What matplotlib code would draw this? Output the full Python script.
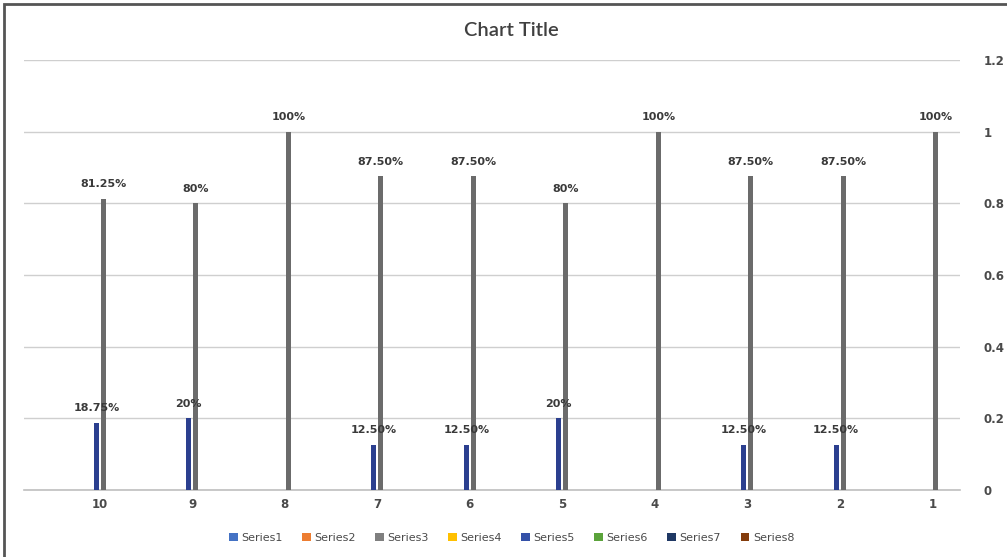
import numpy as np
import matplotlib.pyplot as plt
from matplotlib.patches import Rectangle, Patch

## category labels, left to right
categories = ['10', '9', '8', '7', '6', '5', '4', '3', '2', '1']
## series values (only Series3 and Series5 carry data)
series3 = [0.8125, 0.80, 1.0, 0.875, 0.875, 0.80, 1.0, 0.875, 0.875, 1.0]
series5 = [0.1875, 0.20, 0.0, 0.125, 0.125, 0.20, 0.0, 0.125, 0.125, 0.0]
series3_labels = ['81.25%', '80%', '100%', '87.50%', '87.50%', '80%', '100%', '87.50%', '87.50%', '100%']
series5_labels = ['18.75%', '20%', '', '12.50%', '12.50%', '20%', '', '12.50%', '12.50%', '']
series_names = ['Series1', 'Series2', 'Series3', 'Series4', 'Series5', 'Series6', 'Series7', 'Series8']
series_colors = ['#4472C4', '#ED7D31', '#7F7F7F', '#FFC000', '#3451A8', '#5BA33B', '#1F3864', '#843C0C']

gray_bar = '#6B6B6B'
blue_bar = '#2B3F8F'
text_col = '#4A4A4A'

plt.rcParams['font.family'] = ['DejaVu Sans']

fig = plt.figure(figsize=(10.07, 5.57), dpi=100)
ax = fig.add_axes([24/1007, 1-490/557, 936/1007, 430/557])

x = np.arange(len(categories))
w = 0.055
off = 0.038
ax.bar(x - off, series5, width=w, color=blue_bar, zorder=3)
ax.bar(x + off, series3, width=w, color=gray_bar, zorder=3)

# data labels above each bar
for xi, v, lab in zip(x, series3, series3_labels):
    if lab:
        ax.annotate(lab, (xi + off, v), xytext=(0, 7), textcoords='offset points',
                    ha='center', va='bottom', fontsize=8, fontweight='bold', color='#3A3A3A')
for xi, v, lab in zip(x, series5, series5_labels):
    if lab:
        ax.annotate(lab, (xi - off, v), xytext=(0, 7), textcoords='offset points',
                    ha='center', va='bottom', fontsize=8, fontweight='bold', color='#3A3A3A')

ax.set_xlim(-0.82, 9.3)
ax.set_ylim(0, 1.2)
ax.set_yticks([0, 0.2, 0.4, 0.6, 0.8, 1.0, 1.2])
ax.set_yticklabels(['0', '0.2', '0.4', '0.6', '0.8', '1', '1.2'])
ax.yaxis.tick_right()
ax.set_xticks(x)
ax.set_xticklabels(categories)
ax.tick_params(axis='y', length=0, pad=17, labelsize=8.5, labelcolor=text_col)
ax.tick_params(axis='x', length=0, pad=6, labelsize=8.5, labelcolor=text_col)
for t in ax.get_xticklabels() + ax.get_yticklabels():
    t.set_fontweight('bold')

ax.grid(axis='y', color='#CFCFCF', linewidth=1, zorder=0)
for s in ['top', 'left', 'right']:
    ax.spines[s].set_visible(False)
ax.spines['bottom'].set_color('#BFBFBF')
ax.spines['bottom'].set_linewidth(1.2)

fig.text(0.508, 1 - 30/557, 'Chart Title', ha='center', va='center', fontsize=14.5,
         fontweight='semibold', color='#404040', family=['Lato', 'DejaVu Sans'])

handles = [Patch(facecolor=c, edgecolor='none') for c in series_colors]
fig.legend(handles, series_names, loc='center', bbox_to_anchor=(0.508, 1 - 538/557), ncol=8,
           frameon=False, fontsize=8, handlelength=0.8, handleheight=0.8, handletextpad=0.3,
           columnspacing=1.75, labelcolor=text_col)

# outer frame (top and left edges visible)
fig.patches.append(Rectangle((4/1007, -0.05), 1.2, 1 - 4/557 + 0.05, transform=fig.transFigure,
                             fill=False, edgecolor='#555555', linewidth=2))

fig.savefig('out.png', dpi=100)
